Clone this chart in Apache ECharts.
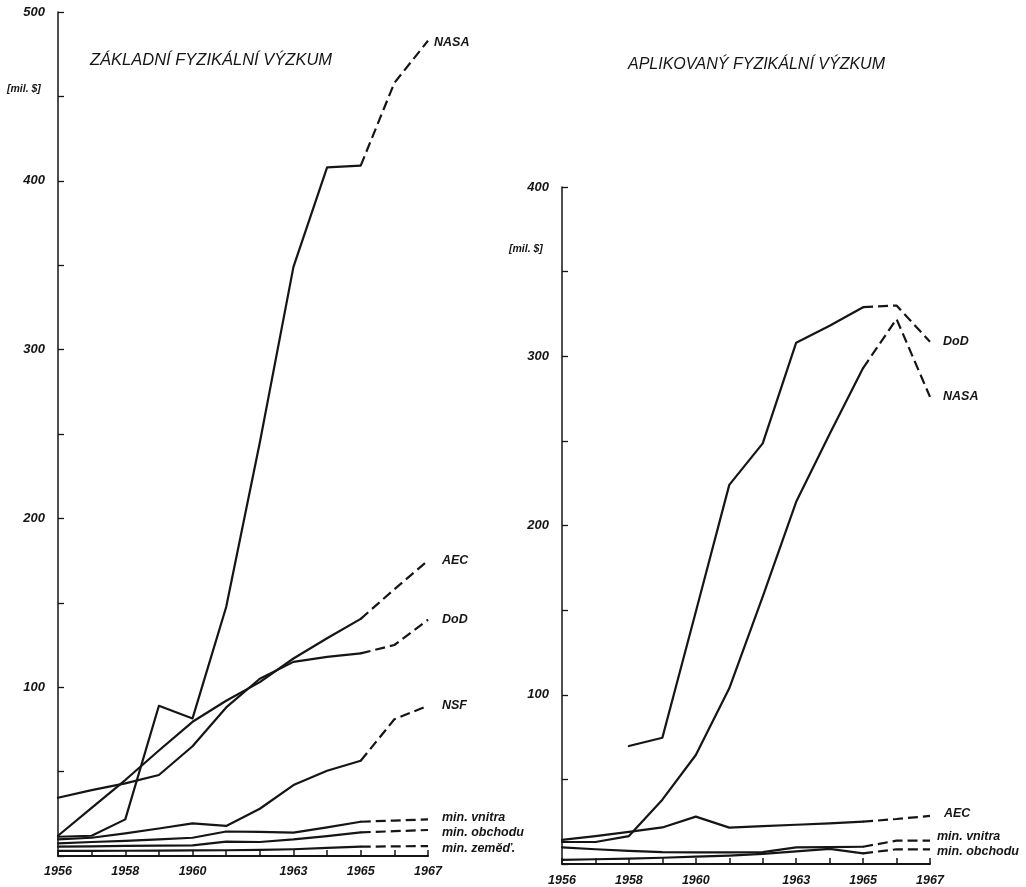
<!DOCTYPE html>
<html>
<head>
<meta charset="utf-8">
<script src="https://cdn.jsdelivr.net/npm/echarts@6/dist/echarts.min.js"></script>
<style>
html,body{margin:0;padding:0;background:#fff;}
#c{width:1026px;height:887px;}
</style>
</head>
<body>
<div id="c"></div>
<script>
// ---- data ----
const years = [1956,1957,1958,1959,1960,1961,1962,1963,1964,1965,1966,1967];
const yearLabels = [1956,1958,1960,1963,1965,1967];
const leftTickLabels = [100,200,300,400,500];
const rightTickLabels = [100,200,300,400];
const dashFrom = 1965; // projected values (dashed) from this year on

const leftTitle = 'ZÁKLADNÍ FYZIKÁLNÍ VÝZKUM';
const rightTitle = 'APLIKOVANÝ FYZIKÁLNÍ VÝZKUM';
const unitLabel = '[mil. $]';

// left panel: basic physical research
const leftNASA    = [11.4, 12, 21.7, 89, 81.5, 147.5, 245, 349, 408, 409, 458, 483];
const leftAEC     = [12, 28.5, 45, 62.5, 79.5, 92, 103, 117, 129, 140.5, 158, 175];
const leftDoD     = [34.5, 39, 43, 48, 65, 88, 105, 115, 118, 120, 125, 140];
const leftNSF     = [9.8, 10.8, 13.4, 16.3, 19.3, 17.8, 28, 42, 50.5, 56.4, 81, 89];
const leftVnitra  = [7.5, 8.3, 9, 9.8, 10.8, 14.5, 14.3, 13.8, 17, 20.3, 21, 21.7];
const leftObchodu = [5.5, 5.7, 6, 6.2, 6.3, 8.5, 8.3, 9.8, 11.8, 14, 14.7, 15.4];
const leftZemed   = [3, 3, 3.1, 3.2, 3.3, 3.4, 3.6, 4, 4.8, 5.5, 5.7, 5.9];

// right panel: applied physical research
const rightDoD     = [null, null, 69.7, 74.6, 149, 224, 248.5, 308, 318, 329, 330, 308.5];
const rightNASA    = [13, 13, 16.5, 38, 64.4, 103.8, 158, 214, 254, 293, 322, 276];
const rightAEC     = [14.2, 16.5, 19, 21.6, 28, 21.5, 22.4, 23.2, 24, 25, 26.6, 28.4];
const rightVnitra  = [9.8, 8.7, 7.7, 7, 6.9, 6.9, 7, 9.8, 10, 10.2, 13.8, 13.8];
const rightObchodu = [2.4, 2.8, 3.2, 3.7, 4.3, 5, 6, 7.5, 8.9, 6.3, 8.7, 8.7];

const leftSeries = [
  ['NASA', leftNASA, 6, 2],
  ['AEC', leftAEC, 14, 0],
  ['DoD', leftDoD, 14, 0],
  ['NSF', leftNSF, 14, 0],
  ['min. vnitra', leftVnitra, 14, -2],
  ['min. obchodu', leftObchodu, 14, 3],
  ['min. zeměď.', leftZemed, 14, 3]
];
const rightSeries = [
  ['DoD', rightDoD, 13, 0],
  ['NASA', rightNASA, 13, 0],
  ['AEC', rightAEC, 14, -2],
  ['min. vnitra', rightVnitra, 7, -4],
  ['min. obchodu', rightObchodu, 7, 2]
];

// ---- styles ----
const INK = '#151515';
const FONT = '"Liberation Sans", "DejaVu Sans", sans-serif';
const labelStyle = {color: INK, fontStyle: 'italic', fontWeight: 'bold', fontFamily: FONT};

function pairs(arr, test) {
  const out = [];
  years.forEach((y, i) => { if (arr[i] != null && test(y)) out.push([y, arr[i]]); });
  return out;
}

function buildSeries(list, gi) {
  const out = [];
  list.forEach(([name, arr, dist, dy]) => {
    out.push({
      type: 'line', xAxisIndex: gi, yAxisIndex: gi, name: name + ' ',
      data: pairs(arr, y => y <= dashFrom),
      symbol: 'none', silent: true,
      lineStyle: {color: INK, width: 2.2, type: 'solid', cap: 'round', join: 'round'}
    });
    out.push({
      type: 'line', xAxisIndex: gi, yAxisIndex: gi, name: name,
      data: pairs(arr, y => y >= dashFrom),
      symbol: 'none', silent: true,
      lineStyle: {color: INK, width: 2.2, type: [10, 5]},
      endLabel: Object.assign({show: true, formatter: name, fontSize: 12.5, distance: dist, offset: [0, dy]}, labelStyle)
    });
  });
  return out;
}

function xAxis(gi, margin) {
  return {
    type: 'value', gridIndex: gi, min: 1956, max: 1967, interval: 1,
    axisLine: {show: true, onZero: false, lineStyle: {color: INK, width: 2}},
    axisTick: {show: true, inside: true, length: 6, lineStyle: {color: INK, width: 1.5}},
    splitLine: {show: false},
    axisLabel: Object.assign({
      fontSize: 12.5, margin: margin, showMinLabel: true, showMaxLabel: true,
      formatter: v => yearLabels.indexOf(v) >= 0 ? String(v) : ''
    }, labelStyle)
  };
}
function yAxis(gi, max, ticks) {
  return {
    type: 'value', gridIndex: gi, min: 0, max: max, interval: 50,
    axisLine: {show: true, lineStyle: {color: INK, width: 1.5}},
    axisTick: {show: true, inside: true, length: 6, lineStyle: {color: INK, width: 1.3}},
    splitLine: {show: false},
    axisLabel: Object.assign({
      fontSize: 13, margin: 13,
      formatter: v => ticks.indexOf(v) >= 0 ? String(v) : ''
    }, labelStyle)
  };
}

const chart = echarts.init(document.getElementById('c'), null, {renderer: 'canvas'});
chart.setOption({
  animation: false,
  backgroundColor: '#ffffff',
  grid: [
    {left: 58, top: 12, width: 370, height: 844},
    {left: 562, top: 187, width: 368, height: 677}
  ],
  xAxis: [xAxis(0, 9), xAxis(1, 10)],
  yAxis: [yAxis(0, 500, leftTickLabels), yAxis(1, 400, rightTickLabels)],
  series: buildSeries(leftSeries, 0).concat(buildSeries(rightSeries, 1)),
  graphic: [
    {type: 'text', left: 90, top: 52, style: {text: leftTitle, fill: INK, font: 'italic 16.5px ' + FONT}},
    {type: 'text', left: 628, top: 57, style: {text: rightTitle, fill: INK, font: 'italic 16px ' + FONT}},
    {type: 'text', left: 7, top: 84, style: {text: unitLabel, fill: INK, font: 'italic bold 10.5px ' + FONT}},
    {type: 'text', left: 509, top: 244, style: {text: unitLabel, fill: INK, font: 'italic bold 10.5px ' + FONT}}
  ]
});
</script>
</body>
</html>
